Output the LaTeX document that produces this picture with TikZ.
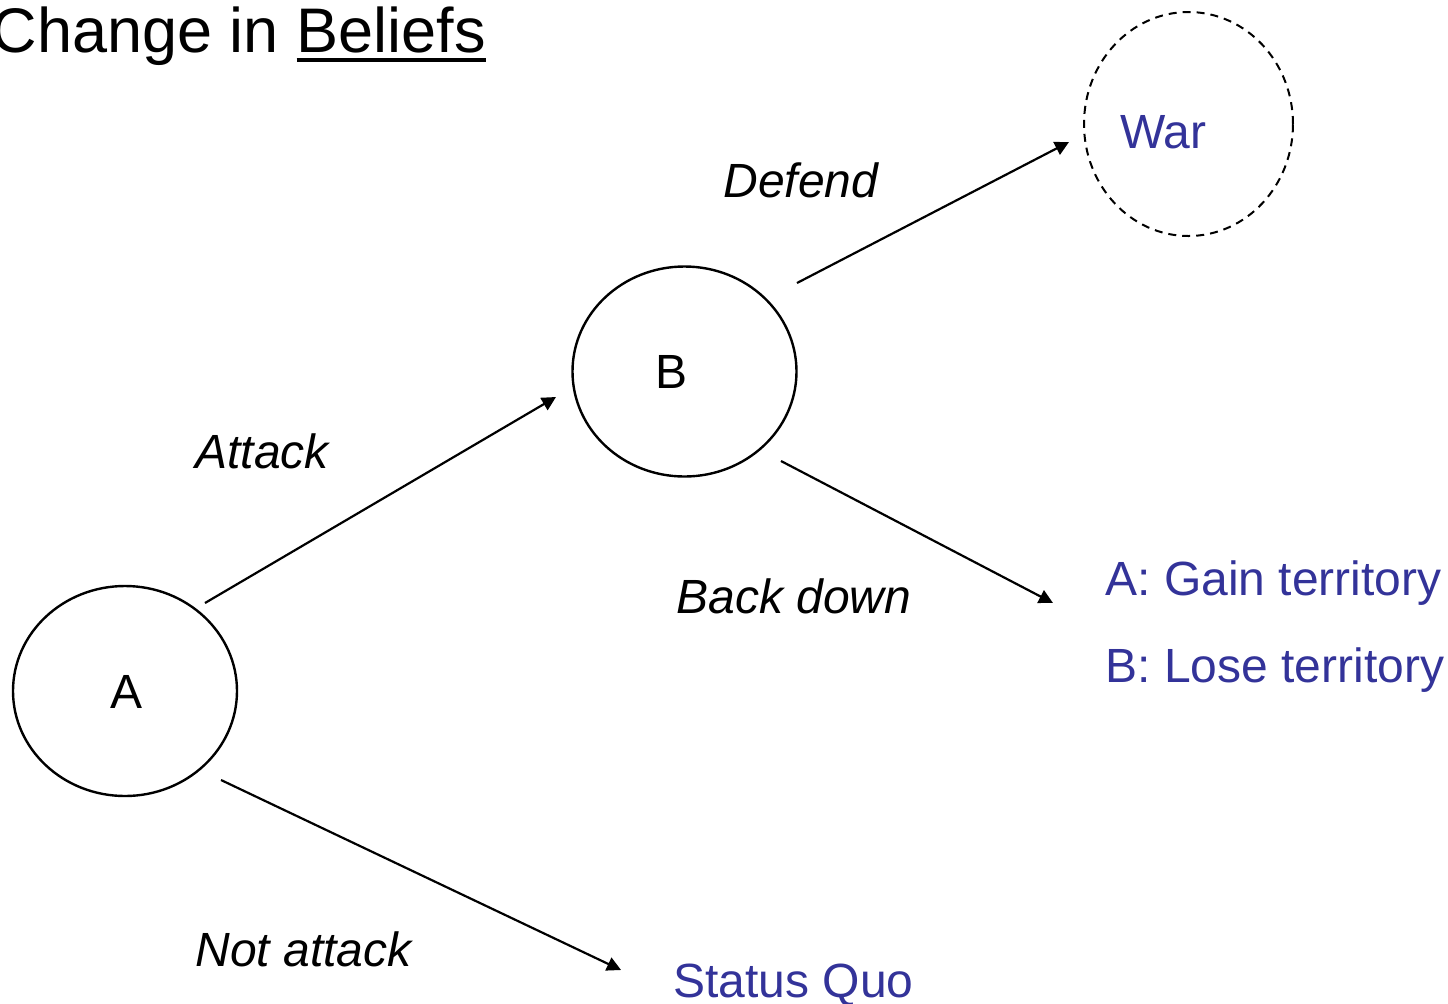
\documentclass[tikz,border=0pt]{standalone}
\usepackage{fontspec}
\setmainfont{Liberation Sans}
\usetikzlibrary{shapes.geometric,arrows.meta}
\definecolor{outcome}{RGB}{51,51,153}
\newcommand\titleunderline[1]{\setbox0\hbox{#1}\rlap{\rule[-5pt]{\wd0}{2pt}}\box0}
\begin{document}
\begin{tikzpicture}[x=0.5pt,y=-0.5pt,
  mover/.style={draw, ellipse, line width=1.2pt, inner sep=0pt,
    minimum width=112pt, minimum height=105pt,
    font=\fontsize{24}{28}\selectfont},
  terminal/.style={draw, ellipse, dashed, dash pattern=on 4pt off 3pt,
    line width=1pt, inner sep=0pt, minimum width=104.5pt, minimum height=112pt},
  outcometext/.style={text=outcome, inner sep=0pt, font=\fontsize{24}{28}\selectfont},
  movelabel/.style={inner sep=0pt, font=\fontsize{24}{28}\selectfont\itshape},
  branch/.style={line width=1.1pt, -{Triangle[length=7pt,width=7pt]}}]
\useasboundingbox (0,0) rectangle (1448,1003);

% heading
\node[anchor=base east, inner sep=0pt, font=\fontsize{31.5}{36}\selectfont]
  (title) at (486,52) {Change in \titleunderline{Beliefs}};

% decision nodes
\node[mover] (A) at (125,691) {};
\node[inner sep=0pt, anchor=base, font=\fontsize{24}{28}\selectfont] (Alab) at (127,708) {A};
\node[mover] (B) at (684.5,371.5) {};
\node[inner sep=0pt, anchor=base, font=\fontsize{24}{28}\selectfont] (Blab) at (672,388) {B};

% terminal outcomes
\node[terminal] (war) at (1188.5,124) {};
\node[outcometext, anchor=base west] (warlab) at (1120,148) {War};
\node[outcometext, anchor=base west] (gain) at (1105,595) {A: Gain territory};
\node[outcometext, anchor=base west] (lose) at (1105,682) {B: Lose territory};
\node[outcometext, anchor=base west] (sq) at (673,997) {Status Quo};

% move labels
\node[movelabel, anchor=base west] (lattack) at (195,468) {Attack};
\node[movelabel, anchor=base west] (ldefend) at (723,197) {Defend};
\node[movelabel, anchor=base west] (lback) at (676,613) {Back down};
\node[movelabel, anchor=base west] (lnot) at (195,966) {Not attack};

% branches
\draw[branch] ([shift={(80,-88)}]A.center) -- ([shift={(-128.5,25.5)}]B.center);
\draw[branch] ([shift={(112.5,-88.5)}]B.center) -- ([shift={(-119.5,18)}]war.center);
\draw[branch] ([shift={(96.5,89.5)}]B.center) -- ([shift={(-52,8)}]gain.base west);
\draw[branch] ([shift={(96,89)}]A.center) -- ([shift={(-52,-27)}]sq.base west);
\end{tikzpicture}
\end{document}
